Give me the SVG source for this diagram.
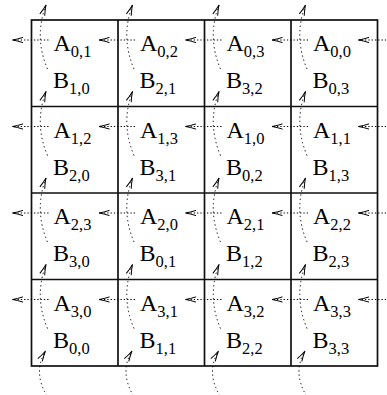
<svg xmlns="http://www.w3.org/2000/svg" width="387" height="395" viewBox="0 0 387 395">
<style>
.grid{fill:none;stroke:#111;stroke-width:1.7}
.h{fill:none;stroke:#000;stroke-width:1;stroke-dasharray:1.3 2;marker-end:url(#ah)}
.v{fill:none;stroke:#000;stroke-width:1;stroke-dasharray:1.3 3;marker-end:url(#ah)}
text{font-family:"Liberation Serif","Times New Roman",serif;font-size:24px;fill:#000}
.s{font-size:16.5px}
</style>
<defs>
<marker id="ah" markerUnits="userSpaceOnUse" orient="auto" overflow="visible" markerWidth="1" markerHeight="1" refX="0" refY="0">
<path d="M-10.5,-2.6 Q-5,-0.8 0,0 Q-5,0.8 -10.5,2.6" fill="none" stroke="#000" stroke-width="1" stroke-dasharray="none"/>
</marker>
</defs>
<g id="grid" class="grid">
<rect x="31.5" y="20" width="346" height="346"/>
<path d="M118,20V366M204.5,20V366M291,20V366M31.5,106.5H377.5M31.5,193H377.5M31.5,279.5H377.5"/>
</g>
<g id="connectors">
<path class="h" d="M48.5,40H12.5"/><path class="h" d="M135,40H99"/><path class="h" d="M221.5,40H185.5"/><path class="h" d="M308,40H272"/><path class="h" d="M396,40H358.5"/>
<path class="h" d="M48.5,126.5H12.5"/><path class="h" d="M135,126.5H99"/><path class="h" d="M221.5,126.5H185.5"/><path class="h" d="M308,126.5H272"/><path class="h" d="M396,126.5H358.5"/>
<path class="h" d="M48.5,213H12.5"/><path class="h" d="M135,213H99"/><path class="h" d="M221.5,213H185.5"/><path class="h" d="M308,213H272"/><path class="h" d="M396,213H358.5"/>
<path class="h" d="M48.5,299.5H12.5"/><path class="h" d="M135,299.5H99"/><path class="h" d="M221.5,299.5H185.5"/><path class="h" d="M308,299.5H272"/><path class="h" d="M396,299.5H358.5"/>
<path class="v" d="M47.5,69Q33.85,37 46,5"/><path class="v" d="M134,69Q120.35,37 132.5,5"/><path class="v" d="M220.5,69Q206.85,37 219,5"/><path class="v" d="M307,69Q293.35,37 305.5,5"/>
<path class="v" d="M47.5,155.5Q33.85,123.5 46,91.5"/><path class="v" d="M134,155.5Q120.35,123.5 132.5,91.5"/><path class="v" d="M220.5,155.5Q206.85,123.5 219,91.5"/><path class="v" d="M307,155.5Q293.35,123.5 305.5,91.5"/>
<path class="v" d="M47.5,242Q33.85,210 46,178"/><path class="v" d="M134,242Q120.35,210 132.5,178"/><path class="v" d="M220.5,242Q206.85,210 219,178"/><path class="v" d="M307,242Q293.35,210 305.5,178"/>
<path class="v" d="M47.5,328.5Q33.85,296.5 46,264.5"/><path class="v" d="M134,328.5Q120.35,296.5 132.5,264.5"/><path class="v" d="M220.5,328.5Q206.85,296.5 219,264.5"/><path class="v" d="M307,328.5Q293.35,296.5 305.5,264.5"/>
<path class="v" d="M47,396Q32.75,372 45.5,351"/><path class="v" d="M133.5,396Q119.25,372 132,351"/><path class="v" d="M220,396Q205.75,372 218.5,351"/><path class="v" d="M306.5,396Q292.25,372 305,351"/>
</g>
<g id="c00"><text x="53.5" y="51">A<tspan class="s" dy="6">0,1</tspan></text><text x="53" y="88">B<tspan class="s" dy="6">1,0</tspan></text></g>
<g id="c01"><text x="140" y="51">A<tspan class="s" dy="6">0,2</tspan></text><text x="139.5" y="88">B<tspan class="s" dy="6">2,1</tspan></text></g>
<g id="c02"><text x="226.5" y="51">A<tspan class="s" dy="6">0,3</tspan></text><text x="226" y="88">B<tspan class="s" dy="6">3,2</tspan></text></g>
<g id="c03"><text x="313" y="51">A<tspan class="s" dy="6">0,0</tspan></text><text x="312.5" y="88">B<tspan class="s" dy="6">0,3</tspan></text></g>
<g id="c10"><text x="53.5" y="137.5">A<tspan class="s" dy="6">1,2</tspan></text><text x="53" y="174.5">B<tspan class="s" dy="6">2,0</tspan></text></g>
<g id="c11"><text x="140" y="137.5">A<tspan class="s" dy="6">1,3</tspan></text><text x="139.5" y="174.5">B<tspan class="s" dy="6">3,1</tspan></text></g>
<g id="c12"><text x="226.5" y="137.5">A<tspan class="s" dy="6">1,0</tspan></text><text x="226" y="174.5">B<tspan class="s" dy="6">0,2</tspan></text></g>
<g id="c13"><text x="313" y="137.5">A<tspan class="s" dy="6">1,1</tspan></text><text x="312.5" y="174.5">B<tspan class="s" dy="6">1,3</tspan></text></g>
<g id="c20"><text x="53.5" y="224">A<tspan class="s" dy="6">2,3</tspan></text><text x="53" y="261">B<tspan class="s" dy="6">3,0</tspan></text></g>
<g id="c21"><text x="140" y="224">A<tspan class="s" dy="6">2,0</tspan></text><text x="139.5" y="261">B<tspan class="s" dy="6">0,1</tspan></text></g>
<g id="c22"><text x="226.5" y="224">A<tspan class="s" dy="6">2,1</tspan></text><text x="226" y="261">B<tspan class="s" dy="6">1,2</tspan></text></g>
<g id="c23"><text x="313" y="224">A<tspan class="s" dy="6">2,2</tspan></text><text x="312.5" y="261">B<tspan class="s" dy="6">2,3</tspan></text></g>
<g id="c30"><text x="53.5" y="310.5">A<tspan class="s" dy="6">3,0</tspan></text><text x="53" y="347.5">B<tspan class="s" dy="6">0,0</tspan></text></g>
<g id="c31"><text x="140" y="310.5">A<tspan class="s" dy="6">3,1</tspan></text><text x="139.5" y="347.5">B<tspan class="s" dy="6">1,1</tspan></text></g>
<g id="c32"><text x="226.5" y="310.5">A<tspan class="s" dy="6">3,2</tspan></text><text x="226" y="347.5">B<tspan class="s" dy="6">2,2</tspan></text></g>
<g id="c33"><text x="313" y="310.5">A<tspan class="s" dy="6">3,3</tspan></text><text x="312.5" y="347.5">B<tspan class="s" dy="6">3,3</tspan></text></g>
</svg>
